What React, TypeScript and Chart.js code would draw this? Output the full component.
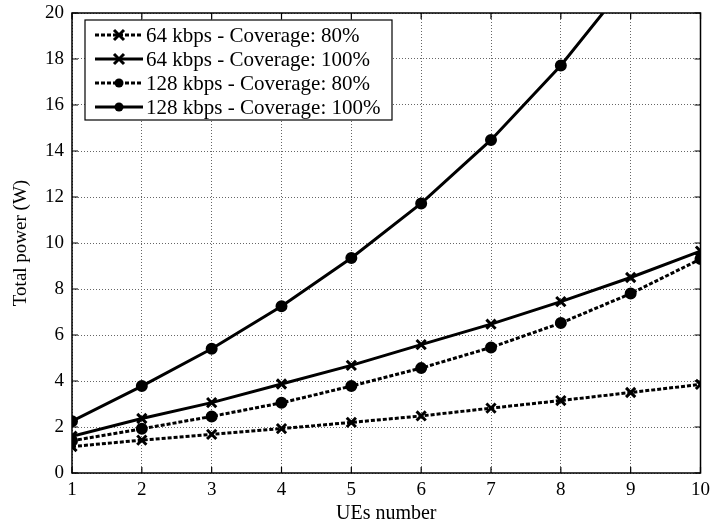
import React, { useEffect, useRef } from "react";
import { Chart, registerables } from "chart.js";

Chart.register(...registerables);

const categories = [1, 2, 3, 4, 5, 6, 7, 8, 9, 10];
const s64_80 = [1.15, 1.43, 1.68, 1.93, 2.2, 2.48, 2.82, 3.15, 3.5, 3.85];
const s64_100 = [1.6, 2.37, 3.06, 3.87, 4.68, 5.58, 6.47, 7.45, 8.5, 9.65];
const s128_80 = [1.4, 1.92, 2.46, 3.05, 3.78, 4.56, 5.46, 6.52, 7.8, 9.3];
const s128_100 = [2.25, 3.78, 5.4, 7.25, 9.35, 11.72, 14.48, 17.72, 21.5, 25.7];
const seriesNames = [
  "64 kbps - Coverage: 80%",
  "64 kbps - Coverage: 100%",
  "128 kbps - Coverage: 80%",
  "128 kbps - Coverage: 100%",
];
const yTicks = [0, 2, 4, 6, 8, 10, 12, 14, 16, 18, 20];

const FONT = "'Liberation Serif', 'DejaVu Serif', serif";

const framePlugin = {
  id: "frame",
  afterDraw(chart: any) {
    const { ctx, chartArea: a, scales } = chart;
    ctx.save();
    ctx.strokeStyle = "#000";
    ctx.lineWidth = 1.5;
    ctx.setLineDash([]);
    ctx.strokeRect(a.left, a.top, a.right - a.left, a.bottom - a.top);
    ctx.lineWidth = 1.2;
    const tl = 6;
    ctx.beginPath();
    for (const v of categories) {
      const x = scales.x.getPixelForValue(v);
      ctx.moveTo(x, a.bottom);
      ctx.lineTo(x, a.bottom - tl);
      ctx.moveTo(x, a.top);
      ctx.lineTo(x, a.top + tl);
    }
    for (const v of yTicks) {
      const y = scales.y.getPixelForValue(v);
      ctx.moveTo(a.left, y);
      ctx.lineTo(a.left + tl, y);
      ctx.moveTo(a.right, y);
      ctx.lineTo(a.right - tl, y);
    }
    ctx.stroke();

    // legend box
    const bx = 85, by = 20, bw = 307, bh = 100;
    ctx.fillStyle = "#fff";
    ctx.fillRect(bx, by, bw, bh);
    ctx.lineWidth = 1.2;
    ctx.strokeRect(bx, by, bw, bh);
    const rowH = 24;
    chart.data.datasets.forEach((ds: any, i: number) => {
      const cy = by + 15 + i * rowH;
      const x0 = bx + 10, x1 = bx + 58;
      ctx.strokeStyle = "#000";
      ctx.lineWidth = ds.borderWidth;
      ctx.setLineDash(ds.borderDash || []);
      ctx.beginPath();
      ctx.moveTo(x0, cy);
      ctx.lineTo(x1, cy);
      ctx.stroke();
      ctx.setLineDash([]);
      const mx = (x0 + x1) / 2;
      if (ds.pointStyle === "circle") {
        ctx.fillStyle = "#000";
        ctx.beginPath();
        ctx.arc(mx, cy, 4.5, 0, Math.PI * 2);
        ctx.fill();
      } else {
        ctx.lineWidth = 3;
        const r = 5;
        ctx.beginPath();
        ctx.moveTo(mx - r, cy - r);
        ctx.lineTo(mx + r, cy + r);
        ctx.moveTo(mx + r, cy - r);
        ctx.lineTo(mx - r, cy + r);
        ctx.stroke();
      }
      ctx.fillStyle = "#000";
      ctx.font = `21px ${FONT}`;
      ctx.textBaseline = "middle";
      ctx.textAlign = "left";
      ctx.fillText(ds.label, x1 + 3, cy + 1);
    });
    ctx.restore();
  },
};

export default function App() {
  const ref = useRef<HTMLCanvasElement>(null);
  useEffect(() => {
    if (!ref.current) return;
    const mk = (label: string, data: number[], dashed: boolean, style: string) => ({
      label,
      data,
      borderColor: "#000",
      backgroundColor: "#000",
      borderWidth: 3,
      borderDash: dashed ? [4, 2] : [],
      pointStyle: style,
      pointRadius: style === "circle" ? 4.5 : 6.5,
      pointBorderWidth: 3,
      pointBorderColor: "#000",
      pointBackgroundColor: "#000",
      tension: 0,
    });
    const chart = new Chart(ref.current, {
      type: "line",
      data: {
        labels: categories.map(String),
        datasets: [
          mk(seriesNames[0], s64_80, true, "crossRot"),
          mk(seriesNames[1], s64_100, false, "crossRot"),
          mk(seriesNames[2], s128_80, true, "circle"),
          mk(seriesNames[3], s128_100, false, "circle"),
        ],
      },
      options: {
        animation: false,
        responsive: false,
        layout: { padding: { top: 13, right: 9, left: 0, bottom: 0 } },
        plugins: { legend: { display: false }, tooltip: { enabled: false } },
        scales: {
          x: {
            type: "linear",
            min: 1,
            max: 10,
            afterFit: (s: any) => { s.height = 56; s.paddingRight = 0; s.paddingLeft = 0; },
            afterBuildTicks: (s: any) => { s.ticks = categories.map((v) => ({ value: v })); },
            grid: { color: "#666", lineWidth: 1, drawTicks: false },
            border: { display: false, dash: [1, 2] },
            ticks: { color: "#000", font: { family: FONT, size: 19 }, padding: 6 },
            title: { display: true, text: "UEs number", color: "#000", font: { family: FONT, size: 20 }, padding: { top: 0, bottom: 3 } },
          },
          y: {
            min: 0,
            max: 20,
            afterFit: (s: any) => { s.width = 72; s.paddingTop = 0; s.paddingBottom = 0; },
            afterBuildTicks: (s: any) => { s.ticks = yTicks.map((v) => ({ value: v })); },
            grid: { color: "#666", lineWidth: 1, drawTicks: false },
            border: { display: false, dash: [1, 2] },
            ticks: { color: "#000", font: { family: FONT, size: 19 }, padding: 8 },
            title: { display: true, text: "Total power (W)", color: "#000", font: { family: FONT, size: 19 }, padding: { top: 10, bottom: 4 } },
          },
        },
      } as any,
      plugins: [framePlugin],
    });
    return () => chart.destroy();
  }, []);
  return (
    <div style={{ position: "absolute", left: 0, top: 0, width: 710, height: 529, background: "#fff" }}>
      <canvas ref={ref} width={710} height={529} />
    </div>
  );
}
